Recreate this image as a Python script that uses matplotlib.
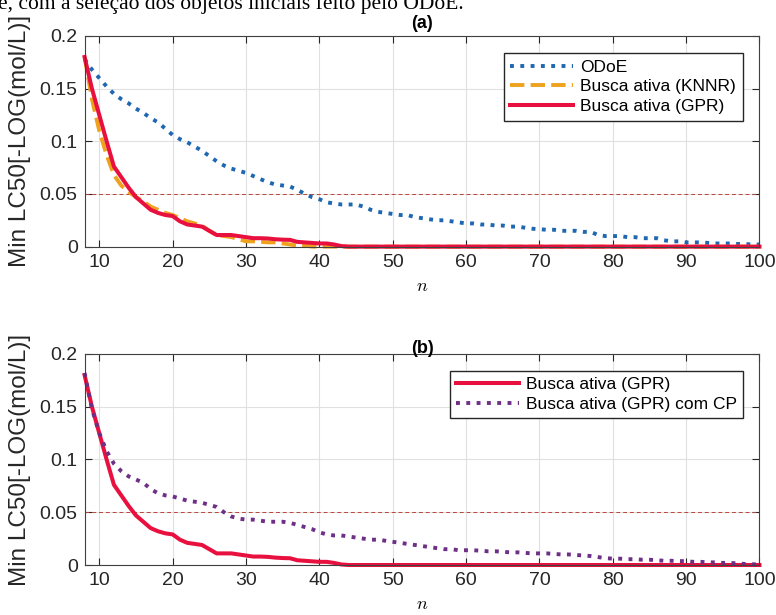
import numpy as np
import matplotlib.pyplot as plt

# minimum LC50 found after n evaluated objects, n = 8..100
odoe = [0.178, 0.168, 0.160, 0.152, 0.145, 0.140, 0.136, 0.131, 0.127, 0.122,
        0.118, 0.112, 0.106, 0.102, 0.099, 0.095, 0.091, 0.086, 0.081, 0.077,
        0.074, 0.072, 0.070, 0.067, 0.064, 0.061, 0.059, 0.058, 0.057, 0.054,
        0.050, 0.047, 0.045, 0.042, 0.041, 0.040, 0.040, 0.040, 0.038, 0.035,
        0.033, 0.032, 0.031, 0.030, 0.030, 0.028, 0.027, 0.026, 0.025, 0.025,
        0.024, 0.023, 0.022, 0.022, 0.021, 0.021, 0.020, 0.020, 0.019, 0.019,
        0.018, 0.017, 0.0165, 0.016, 0.016, 0.015, 0.015, 0.015, 0.014, 0.014,
        0.011, 0.010, 0.010, 0.010, 0.009, 0.009, 0.008, 0.008, 0.008, 0.006,
        0.005, 0.005, 0.004, 0.004, 0.004, 0.0035, 0.003, 0.003, 0.003, 0.0025,
        0.0025, 0.002, 0.002]

knnr = [0.180, 0.140, 0.110, 0.087, 0.068, 0.058, 0.052, 0.047, 0.043, 0.038,
        0.035, 0.032, 0.030, 0.027, 0.024, 0.022, 0.020, 0.015, 0.011, 0.010,
        0.009, 0.007, 0.005, 0.005, 0.0045, 0.004, 0.004, 0.003, 0.002, 0.001,
        0.001] + [0.0] * 62

gpr = [0.180, 0.150, 0.125, 0.100, 0.076, 0.066, 0.056, 0.047, 0.041, 0.035,
       0.032, 0.030, 0.029, 0.024, 0.021, 0.020, 0.019, 0.015, 0.011, 0.011,
       0.011, 0.010, 0.009, 0.008, 0.008, 0.0077, 0.007, 0.0066, 0.0064, 0.0045,
       0.004, 0.0035, 0.003, 0.003, 0.002, 0.0005] + [0.0] * 57

gpr_cp = [0.182, 0.148, 0.125, 0.108, 0.096, 0.089, 0.084, 0.081, 0.078, 0.072,
          0.068, 0.066, 0.065, 0.063, 0.061, 0.060, 0.059, 0.057, 0.055, 0.050,
          0.046, 0.044, 0.043, 0.043, 0.042, 0.041, 0.041, 0.041, 0.040, 0.038,
          0.036, 0.034, 0.031, 0.029, 0.028, 0.028, 0.027, 0.026, 0.025, 0.024,
          0.024, 0.023, 0.022, 0.021, 0.020, 0.019, 0.018, 0.017, 0.016, 0.015,
          0.015, 0.014, 0.014, 0.014, 0.0135, 0.013, 0.013, 0.0125, 0.012, 0.012,
          0.0115, 0.011, 0.011, 0.011, 0.0105, 0.010, 0.010, 0.0095, 0.009, 0.0085,
          0.0075, 0.0065, 0.006, 0.006, 0.0055, 0.0055, 0.005, 0.005, 0.0045, 0.004,
          0.004, 0.0038, 0.0035, 0.003, 0.003, 0.0025, 0.0025, 0.002, 0.002, 0.0015,
          0.001, 0.0007, 0.0005]

n = np.arange(8, 8 + len(gpr))
threshold = 0.05

plt.rcParams['font.family'] = 'Liberation Sans'
plt.rcParams['mathtext.fontset'] = 'cm'

BLUE = '#1f67b0'
ORANGE = '#eea21e'
RED = '#e8103f'
PURPLE = '#6e2f86'
DARK = '#262626'

fig = plt.figure(figsize=(7.76, 6.15), dpi=100)
ax1 = fig.add_axes([0.109, 0.599, 0.8697, 0.3426])
ax2 = fig.add_axes([0.109, 0.0813, 0.8697, 0.3431])

fig.text(-0.003, 1 - 8.5 / 615, 'e, com a seleção dos objetos iniciais feito pelo ODoE.',
         family='Liberation Serif', fontsize=15.5, va='baseline', ha='left')


def style_axes(ax):
    ax.set_xlim(8, 100)
    ax.set_ylim(0, 0.2)
    ax.set_xticks(np.arange(10, 101, 10))
    ax.set_yticks([0, 0.05, 0.1, 0.15, 0.2])
    ax.set_yticklabels(['0', '0.05', '0.1', '0.15', '0.2'])
    ax.tick_params(direction='in', length=5, width=0.8, top=True, right=True,
                   labelsize=14, colors=DARK, pad=5)
    ax.grid(True, color='#e0e0e0', linewidth=0.8)
    ax.set_axisbelow(True)
    for s in ax.spines.values():
        s.set_color('#404040')
        s.set_linewidth(0.8)
    ax.axhline(threshold, color='#b8463a', linewidth=0.7, dashes=(4, 3), zorder=1.5)
    ax.set_xlabel('$n$', fontsize=13, labelpad=5)
    ax.set_ylabel('Min LC50[-LOG(mol/L)]', fontsize=17.5, color=DARK)
    ax.yaxis.set_label_coords(-0.079, 0.5)


# (a) ODoE vs active search
style_axes(ax1)
ax1.plot(n, odoe, ':', color=BLUE, linewidth=2.8, label='ODoE', clip_on=False)
ax1.plot(n, knnr, '--', color=ORANGE, linewidth=2.8, label='Busca ativa (KNNR)', clip_on=False)
ax1.plot(n, gpr, '-', color=RED, linewidth=2.9, label='Busca ativa (GPR)', clip_on=False)
ax1.set_title('(a)', fontsize=13, fontweight='bold', pad=6)
ax1.legend(loc='upper right', bbox_to_anchor=(0.975, 0.921), borderaxespad=0,
           fontsize=12.5, handlelength=3.6, labelspacing=0.25, fancybox=False,
           edgecolor=DARK, framealpha=1, borderpad=0.4, handletextpad=0.4)

# (b) GPR with and without CP
style_axes(ax2)
ax2.plot(n, gpr, '-', color=RED, linewidth=2.9, label='Busca ativa (GPR)', clip_on=False)
ax2.plot(n, gpr_cp, ':', color=PURPLE, linewidth=2.8, label='Busca ativa (GPR) com CP', clip_on=False)
ax2.set_title('(b)', fontsize=13, fontweight='bold', pad=1)
ax2.legend(loc='upper right', bbox_to_anchor=(0.975, 0.92), borderaxespad=0,
           fontsize=12.5, handlelength=3.6, labelspacing=0.25, fancybox=False,
           edgecolor=DARK, framealpha=1, borderpad=0.35, handletextpad=0.4)

fig.savefig('out.png', dpi=100)
